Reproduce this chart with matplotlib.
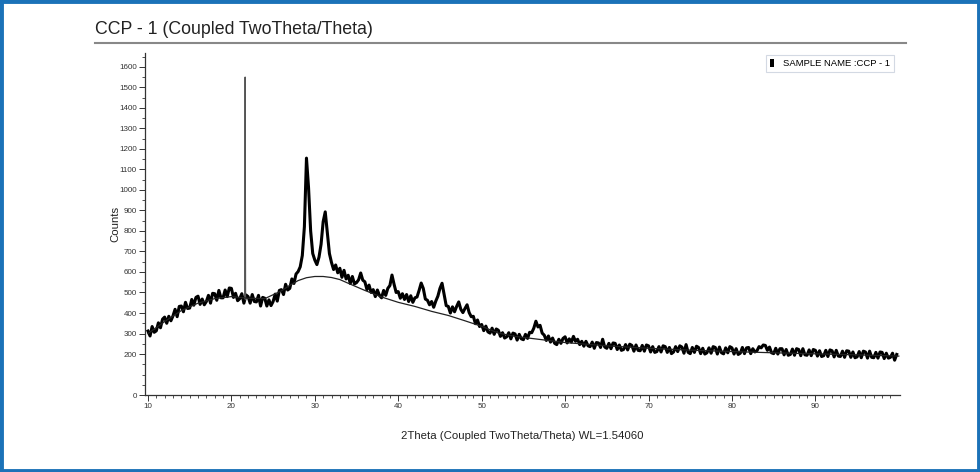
import numpy as np
import matplotlib.pyplot as plt
from matplotlib.patches import Rectangle
from matplotlib.lines import Line2D

plt.rcParams['font.family'] = ['Liberation Sans', 'DejaVu Sans']

# 測量數據 (2theta 每 0.25 度一點, 10 ~ 99.75)
two_theta = np.arange(10, 100, 0.25)
counts = [
    312, 288, 334, 306,  313, 352, 328, 370,  380, 350, 384, 362,  386, 418, 382, 432,   # 10-13
    434, 406, 452, 422,  424, 466, 438, 476,  482, 442, 468, 440,  456, 486, 448, 496,   # 14-17
    494, 462, 510, 474,  474, 512, 480, 522,  520, 476, 496, 460,  470, 494, 448, 488,   # 18-21
    480, 448, 490, 456,  454, 486, 434, 476,  472, 434, 464, 436,  456, 492, 458, 510,   # 22-25
    514, 490, 540, 512,  520, 566, 544, 590,  602, 625, 680, 820,  1155, 1010, 800, 690, # 26-29
    658, 636, 672, 735,  845, 893, 790, 690,  646, 612, 634, 596,  618, 574, 608, 566,   # 30-33
    584, 544, 578, 542,  548, 562, 595, 560,  552, 514, 536, 500,  514, 480, 512, 486,   # 34-37
    474, 510, 486, 520,  534, 585, 540, 500,  504, 472, 494, 466,  490, 456, 484, 452,   # 38-41
    474, 478, 510, 546,  520, 468, 462, 440,  456, 428, 458, 482,  520, 545, 490, 436,   # 42-45
    432, 400, 430, 406,  432, 454, 418, 402,  422, 440, 402, 382,  384, 348, 366, 334,   # 46-49
    344, 314, 336, 308,  302, 326, 296, 322,  316, 286, 304, 278,  284, 304, 274, 302,   # 50-53
    298, 268, 296, 274,  270, 296, 276, 306,  304, 326, 360, 332,  340, 302, 292, 266,   # 54-57
    288, 258, 278, 252,  246, 272, 252, 276,  284, 254, 274, 258,  286, 262, 272, 246,   # 58-61
    262, 238, 262, 240,  236, 258, 228, 256,  254, 232, 272, 234,  228, 252, 226, 254,   # 62-65
    252, 222, 244, 218,  222, 246, 220, 248,  242, 214, 244, 218,  216, 242, 214, 244,   # 66-69
    240, 210, 236, 208,  212, 236, 210, 240,  236, 208, 232, 202,  210, 236, 212, 240,   # 70-73
    234, 204, 246, 208,  202, 232, 208, 238,  232, 202, 228, 200,  206, 230, 204, 236,   # 74-77
    232, 200, 234, 206,  201, 230, 206, 236,  230, 200, 226, 198,  204, 232, 202, 230,   # 78-81
    232, 202, 226, 210,  216, 236, 230, 244,  242, 218, 234, 206,  202, 228, 200, 226,   # 82-85
    226, 196, 222, 194,  198, 224, 194, 226,  222, 192, 226, 196,  194, 220, 192, 222,   # 86-89
    218, 190, 216, 188,  192, 218, 188, 220,  216, 186, 218, 190,  188, 214, 184, 216,   # 90-93
    214, 184, 210, 182,  186, 212, 182, 214,  210, 180, 214, 184,  182, 208, 180, 210,   # 94-97
    208, 178, 204, 180,  184, 204, 170, 198,                                             # 98-99
]

# 21.7 度的尖峰
spike_theta = [21.60, 21.65, 21.70]
spike_counts = [470, 1550, 465]

# 背景曲線
bg_theta = [10, 12, 14, 16, 18, 20, 22, 24, 26, 27, 28, 29, 30, 31, 32, 33, 34, 36, 38,
            40, 42, 44, 46, 48, 50, 52, 54, 56, 58, 60, 65, 70, 75, 80, 85, 90, 95, 100]
bg_counts = [300, 358, 412, 448, 470, 480, 472, 470, 508, 535, 558, 572, 578, 578, 573,
             563, 545, 510, 478, 452, 432, 408, 388, 362, 335, 302, 286, 276, 266, 256,
             240, 228, 219, 212, 206, 201, 196, 190]

fig = plt.figure(figsize=(9.8, 4.72), dpi=100)
ax = fig.add_axes([0.148, 0.163, 0.770, 0.725])

ax.plot(two_theta, counts, color='black', lw=2.2)
ax.plot(spike_theta, spike_counts, color='#555555', lw=0.9)
ax.plot(bg_theta, bg_counts, color='#222222', lw=0.9)

ax.set_xlim(9.65, 100.1)
ax.set_ylim(0, 1668)
ax.set_xticks(range(10, 100, 10))
ax.set_xticks(range(10, 100), minor=True)
ax.set_yticks([0] + list(range(200, 1700, 100)))
ax.set_yticks(range(0, 1668, 50), minor=True)
ax.tick_params(axis='both', which='major', labelsize=5.8, length=4, width=0.7,
               colors='#333333', pad=2)
ax.tick_params(axis='both', which='minor', length=2.5, width=0.6, colors='#333333')

for s in ['top', 'right']:
    ax.spines[s].set_visible(False)
for s in ['left', 'bottom']:
    ax.spines[s].set_color('#333333')
    ax.spines[s].set_linewidth(0.9)

ax.set_xlabel('2Theta (Coupled TwoTheta/Theta) WL=1.54060', fontsize=8.2, color='#222222')
ax.xaxis.set_label_coords(0.5, -0.105)
ax.set_ylabel('Counts', fontsize=8.2, color='#222222')
ax.yaxis.set_label_coords(-0.033, 0.5)

handle = Rectangle((0, 0), 1, 1, facecolor='black')
leg = ax.legend([handle], ['SAMPLE NAME :CCP - 1'], loc='upper right', fontsize=6.8,
                handlelength=0.35, handleheight=0.9, handletextpad=1.0,
                fancybox=False, borderpad=0.45, borderaxespad=0,
                bbox_to_anchor=(0.993, 0.995))
leg.get_frame().set_edgecolor('#c8d0dc')
leg.get_frame().set_linewidth(0.8)

fig.text(0.097, 0.938, 'CCP - 1 (Coupled TwoTheta/Theta)', fontsize=12.8,
         color='#222222', va='center', ha='left')
fig.add_artist(Line2D([0.097, 0.924], [0.909, 0.909], color='#888888', lw=1.5,
                      transform=fig.transFigure))
fig.add_artist(Rectangle((0.0015, 0.003), 0.997, 0.994, transform=fig.transFigure,
                         fill=False, edgecolor='#1b72b8', lw=3.5))

fig.savefig('out.png', dpi=100)
